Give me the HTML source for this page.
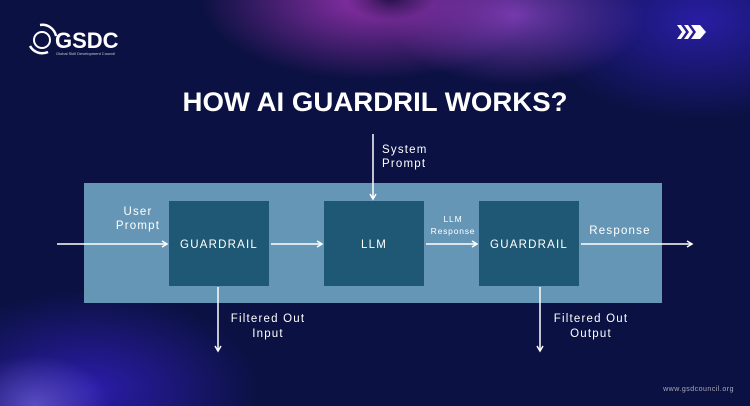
<!DOCTYPE html>
<html><head><meta charset="utf-8"><style>
html,body{margin:0;padding:0;width:750px;height:406px;overflow:hidden;}
body{position:relative;font-family:"Liberation Sans",sans-serif;
background:
radial-gradient(ellipse 45px 22px at 390px -2px, rgba(26,15,64,.9), rgba(26,15,64,0)),
radial-gradient(ellipse 170px 80px at 370px 0px, rgba(150,50,175,.95), rgba(150,50,175,0)),
radial-gradient(ellipse 130px 70px at 515px 15px, rgba(130,65,190,.85), rgba(130,65,190,0)),
radial-gradient(ellipse 170px 100px at 700px 20px, rgba(42,30,168,.95), rgba(42,30,168,0)),
radial-gradient(ellipse 75px 50px at 35px 405px, rgba(95,80,200,.9), rgba(95,80,200,0)),
radial-gradient(ellipse 170px 100px at 90px 390px, rgba(45,29,176,.95), rgba(45,29,176,0)),
#0b1142;}
</style></head><body>
<svg width="750" height="406" style="position:absolute;left:0;top:0;display:block" xmlns="http://www.w3.org/2000/svg">
<defs><marker id="a" markerWidth="8" markerHeight="8" refX="6" refY="4" orient="auto" markerUnits="userSpaceOnUse"><path d="M1,1 L6,4 L1,7" fill="none" stroke="#fff" stroke-width="1.5"/></marker></defs>
<circle cx="42" cy="40" r="8" fill="none" stroke="#fff" stroke-width="2"/>
<path d="M30,46 A14,14 0 0 0 48,52" fill="none" stroke="#fff" stroke-width="2.5"/>
<path d="M40,25 A14,14 0 0 1 56,36" fill="none" stroke="#fff" stroke-width="2.5"/>
<text x="55" y="48" fill="#fff" font-size="22" font-weight="bold">GSDC</text>
<text x="56" y="55" fill="#ccc" font-size="4">Global Skill Development Council</text>
<g fill="#fff"><path d="M677,25 h4 l5,7 l-5,7 h-4 l5,-7z"/><path d="M684,25 h4 l5,7 l-5,7 h-4 l5,-7z"/><path d="M691,25 h9 l6,7 l-6,7 h-9 l5,-7z"/></g>
<text x="375" y="111" fill="#fff" font-size="27" font-weight="bold" text-anchor="middle" textLength="385" lengthAdjust="spacingAndGlyphs">HOW AI GUARDRIL WORKS?</text>
<rect x="84" y="183" width="578" height="120" fill="#6596b6"/>
<rect x="169" y="201" width="100" height="85" fill="#1f5874"/>
<rect x="324" y="201" width="100" height="85" fill="#1f5874"/>
<rect x="479" y="201" width="100" height="85" fill="#1f5874"/>
<g stroke="#fff" stroke-width="1.5" marker-end="url(#a)">
<line x1="57" y1="244" x2="167" y2="244"/>
<line x1="271" y1="244" x2="322" y2="244"/>
<line x1="426" y1="244" x2="477" y2="244"/>
<line x1="581" y1="244" x2="692" y2="244"/>
<line x1="373" y1="134" x2="373" y2="199"/>
<line x1="218" y1="287" x2="218" y2="351"/>
<line x1="540" y1="287" x2="540" y2="351"/>
</g>
<g fill="#fff" font-size="11.5" letter-spacing="1.2">
<text x="219" y="248" text-anchor="middle">GUARDRAIL</text>
<text x="374" y="248" text-anchor="middle">LLM</text>
<text x="529" y="248" text-anchor="middle">GUARDRAIL</text>
<text x="138" y="215" text-anchor="middle">User</text>
<text x="138" y="229" text-anchor="middle">Prompt</text>
<text x="382" y="153">System</text>
<text x="382" y="167">Prompt</text>
<text x="620" y="234" text-anchor="middle">Response</text>
<text x="268" y="322" text-anchor="middle">Filtered Out</text>
<text x="268" y="337" text-anchor="middle">Input</text>
<text x="591" y="322" text-anchor="middle">Filtered Out</text>
<text x="591" y="337" text-anchor="middle">Output</text>
</g>
<g fill="#fff" font-size="8.5" letter-spacing="0.8" text-anchor="middle">
<text x="453" y="222">LLM</text>
<text x="453" y="234">Response</text>
</g>
<text x="734" y="391" fill="#aab" font-size="7" text-anchor="end" letter-spacing="0.5">www.gsdcouncil.org</text>
</svg>
</body></html>
